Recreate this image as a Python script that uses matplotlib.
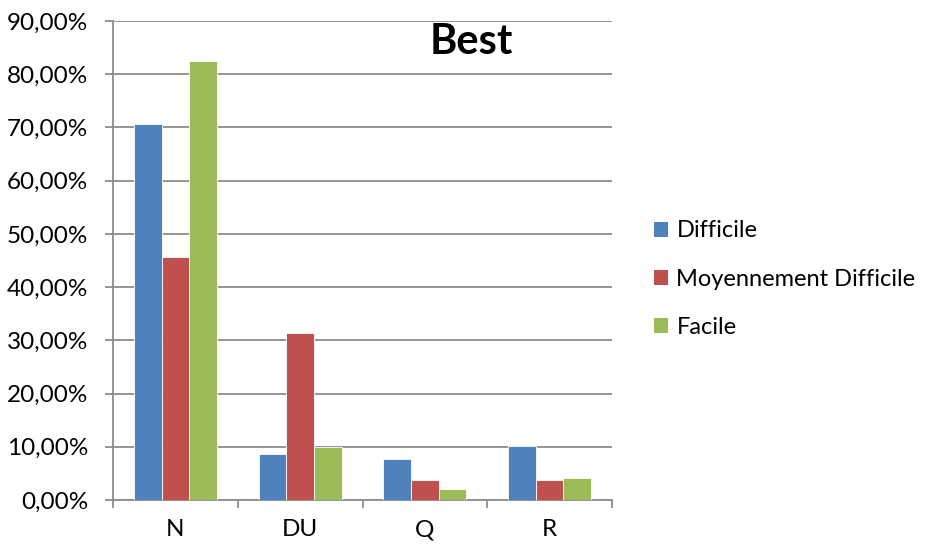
import numpy as np
import matplotlib.pyplot as plt
from matplotlib.ticker import FuncFormatter
from matplotlib.patches import Patch

# Données
categories = ["N", "DU", "Q", "R"]
difficile = [70.7, 8.65, 7.65, 10.2]
moyennement = [45.7, 31.3, 3.7, 3.7]
facile = [82.4, 10.0, 2.0, 4.1]
series_names = ["Difficile", "Moyennement Difficile", "Facile"]
colors = ["#4F81BD", "#C0504D", "#9BBB59"]

plt.rcParams['font.family'] = ['Lato', 'DejaVu Sans']
grid_col = "#8C8C8C"
fs = 17.5

fig = plt.figure(figsize=(9.26, 5.49), dpi=100)
ax = fig.add_axes([113/926, 1 - 500/549, (612-113)/926, (500-21)/549])

x = np.arange(len(categories))
w = 1/4.5
for i, (vals, c) in enumerate(zip([difficile, moyennement, facile], colors)):
    ax.bar(x + (i-1)*w, vals, width=w, color=c, edgecolor="white", linewidth=0.6, zorder=3)

ax.set_xlim(-0.5, len(categories) - 0.5)
ax.set_ylim(0, 90)
ax.set_yticks(np.arange(0, 91, 10))
ax.yaxis.set_major_formatter(FuncFormatter(lambda v, p: ("%.2f%%" % v).replace(".", ",")))
ax.yaxis.grid(True, color=grid_col, linewidth=1.3, zorder=0)

# ticks x entre les catégories
ax.set_xticks(np.arange(-0.5, len(categories), 1))
ax.set_xticklabels([])
ax.set_xticks(x, minor=True)
ax.set_xticklabels(categories, minor=True)
ax.tick_params(axis="x", which="major", length=6, color=grid_col, width=1.3, direction="out")
ax.tick_params(axis="x", which="minor", length=0, pad=14, labelsize=fs)
ax.tick_params(axis="y", length=6, color=grid_col, width=1.3, labelsize=fs, pad=12)

for s in ["top", "right"]:
    ax.spines[s].set_visible(False)
for s in ["left", "bottom"]:
    ax.spines[s].set_color(grid_col)
    ax.spines[s].set_linewidth(1.3)

fig.text(471/926, 1 - 42/549, "Best", fontsize=30, fontweight="bold", ha="center", va="center")

handles = [Patch(facecolor=c, label=n) for c, n in zip(colors, series_names)]
fig.legend(handles=handles, loc="center left", bbox_to_anchor=(654/926, 1 - 279/549),
           frameon=False, fontsize=17, handlelength=0.6, handleheight=0.6,
           handletextpad=0.35, labelspacing=1.15, borderpad=0, borderaxespad=0)

fig.savefig("out.png", dpi=100)
